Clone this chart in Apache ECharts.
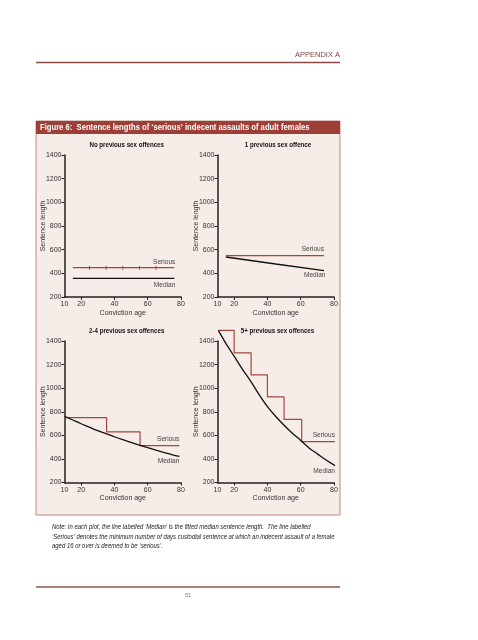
<!DOCTYPE html>
<html><head><meta charset="utf-8">
<script src="https://cdn.jsdelivr.net/npm/echarts@6/dist/echarts.min.js"></script>
<style>html,body{margin:0;padding:0;background:#fff}#c{width:478px;height:640px}</style>
</head><body><div id="c"></div>
<script>
// ---------- data ----------
const xTickLabels = [10, 20, 40, 60, 80];
const xTickMarks = [20, 40, 60, 80];
const yTicks = [200, 400, 600, 800, 1000, 1200, 1400];
const panelTitles = ['No previous sex offences', '1 previous sex offence', '2-4 previous sex offences', '5+ previous sex offences'];

// Panel 1: no previous sex offences
const p1SeriousAge = [15, 25, 35, 45, 55, 65, 76];
const p1SeriousVal = [448, 448, 448, 448, 448, 448, 448];
const p1MedianAge = [15, 76];
const p1MedianVal = [358, 358];
// Panel 2: 1 previous sex offence
const p2SeriousAge = [15, 74];
const p2SeriousVal = [549, 549];
const p2MedianAge = [15, 45, 74];
const p2MedianVal = [538, 479, 423];
// Panel 3: 2-4 previous sex offences
const p3SeriousAge = [10, 35.3, 55.4, 79];
const p3SeriousVal = [751, 630, 512, 512];
const p3MedianAge = [10, 15, 20, 25, 30, 35, 40, 45, 50, 55, 60, 65, 70, 75, 79];
const p3MedianVal = [762, 730, 698, 669, 640, 615, 588, 563, 540, 517, 495, 474, 454, 435, 421];
// Panel 4: 5+ previous sex offences
const p4SeriousAge = [10.5, 20, 30.2, 40, 50, 60.6, 80.6];
const p4SeriousVal = [1490, 1300, 1112, 926, 735, 546, 546];
const p4MedianAge = [10.5, 15, 20, 25, 30, 35, 40, 45, 50, 55, 60, 65, 70, 75, 80.6];
const p4MedianVal = [1490, 1380, 1271, 1160, 1057, 945, 843, 760, 686, 618, 557, 493, 443, 393, 343];

const noteLines = [
  'Note: In each plot, the line labelled \u2018Median\u2019 is the fitted median sentence length.  The line labelled',
  '\u2018Serious\u2019 denotes the minimum number of days custodial sentence at which an indecent assault of a female',
  'aged 16 or over is deemed to be \u2018serious\u2019.'
];

// ---------- styling ----------
const F = '"Liberation Sans", sans-serif';
const RED = '#a5463f';
const INK = '#222';
const grids = [
  {left: 64.5, top: 155, width: 116.5, height: 142},
  {left: 217.5, top: 155, width: 116.5, height: 142},
  {left: 64.5, top: 341, width: 116.5, height: 141.5},
  {left: 217.5, top: 341, width: 116.5, height: 141.5}
];
const titlePos = [[126.7, 145], [278, 145], [126.7, 330.7], [277.5, 330.7]];

function pairs(ages, vals, lab, tickIdx) {
  return ages.map((a, i) => {
    const it = {value: [a, vals[i]]};
    if (tickIdx && tickIdx(i)) { it.symbol = 'rect'; it.symbolSize = [1, 4]; }
    if (lab && i === ages.length - 1) {
      it.label = Object.assign({show: true, formatter: lab.text, align: 'right',
        fontSize: 6.6, color: '#444', fontFamily: F}, lab.opts);
    }
    return it;
  });
}

const panels = [
  [p1SeriousAge, p1SeriousVal, p1MedianAge, p1MedianVal, {position: 'top', distance: 2, offset: [1, 0]}, {position: 'bottom', distance: 3, offset: [1, 0]}],
  [p2SeriousAge, p2SeriousVal, p2MedianAge, p2MedianVal, {position: 'top', distance: 3, offset: [0, 0]}, {position: 'bottom', distance: 1, offset: [1.5, 0]}],
  [p3SeriousAge, p3SeriousVal, p3MedianAge, p3MedianVal, {position: 'top', distance: 3, offset: [0, 0]}, {position: 'bottom', distance: 1, offset: [0, 0]}],
  [p4SeriousAge, p4SeriousVal, p4MedianAge, p4MedianVal, {position: 'top', distance: 3, offset: [0, 0]}, {position: 'bottom', distance: 2.5, offset: [0, 0]}]
];

const xAxis = [], yAxis = [], series = [];
grids.forEach((g, i) => {
  xAxis.push({
    type: 'value', gridIndex: i, min: 10, max: 80, interval: 10,
    axisLine: {show: true, onZero: false, lineStyle: {color: INK, width: 1.5}},
    axisTick: {show: true, length: 3, customValues: xTickMarks, lineStyle: {color: INK}},
    axisLabel: {customValues: xTickLabels, margin: 4, fontSize: 7, color: '#333', fontFamily: F},
    splitLine: {show: false},
    name: 'Conviction age', nameLocation: 'middle', nameGap: 12.5, nameMoveOverlap: false,
    nameTextStyle: {fontSize: 7, color: '#333', fontFamily: F}
  });
  yAxis.push({
    type: 'value', gridIndex: i, min: yTicks[0], max: yTicks[yTicks.length - 1], interval: 200,
    axisLine: {show: true, onZero: false, lineStyle: {color: INK, width: 1.5}},
    axisTick: {show: true, length: 3, lineStyle: {color: INK}},
    axisLabel: {margin: 3, fontSize: 7, color: '#333', fontFamily: F, formatter: v => String(v)},
    splitLine: {show: false},
    name: 'Sentence length', nameLocation: 'middle', nameGap: 18, nameRotate: 90, nameMoveOverlap: false,
    nameTextStyle: {fontSize: 7, color: '#333', fontFamily: F}
  });
  const p = panels[i];
  const stepped = i >= 2;
  series.push({
    type: 'line', xAxisIndex: i, yAxisIndex: i, clip: false, silent: true,
    step: stepped ? 'end' : false,
    symbol: 'circle', symbolSize: 0.01, showSymbol: true,
    itemStyle: {color: RED},
    lineStyle: {color: RED, width: 1.2},
    data: pairs(p[0], p[1], {text: 'Serious', opts: p[4]}, i === 0 ? (k => k > 0 && k < p[0].length - 1) : null)
  });
  series.push({
    type: 'line', xAxisIndex: i, yAxisIndex: i, clip: false, silent: true,
    smooth: stepped ? 0.3 : false,
    symbol: 'circle', symbolSize: 0.01, showSymbol: true,
    itemStyle: {color: '#111'},
    lineStyle: {color: '#111', width: 1.3},
    data: pairs(p[2], p[3], {text: 'Median', opts: p[5]})
  });
});

const graphic = [
  {type: 'rect', z: -10, shape: {x: 36, y: 121, width: 304, height: 394}, style: {fill: '#f6ece8', stroke: '#b98a80', lineWidth: 1}},
  {type: 'rect', z: -9, shape: {x: 36, y: 121, width: 304, height: 13}, style: {fill: '#9d3f36'}},
  {type: 'text', x: 40, y: 127.5, scaleX: 0.85, style: {text: 'Figure 6:  Sentence lengths of \u2018serious\u2019 indecent assaults of adult females', fill: '#fff', fontSize: 9, fontWeight: 'bold', fontFamily: F, align: 'left', verticalAlign: 'middle'}},
  {type: 'line', shape: {x1: 36, y1: 62.5, x2: 340, y2: 62.5}, style: {stroke: '#8c4a44', lineWidth: 1.5}},
  {type: 'text', x: 340, y: 55, style: {text: 'APPENDIX A', fill: '#7a4846', fontSize: 7.5, fontFamily: F, align: 'right', verticalAlign: 'middle'}},
  {type: 'line', shape: {x1: 36, y1: 587, x2: 340, y2: 587}, style: {stroke: '#8c5a4a', lineWidth: 1.5}},
  {type: 'text', x: 188, y: 595, style: {text: '51', fill: '#777', fontSize: 5.5, fontFamily: F, align: 'center', verticalAlign: 'middle'}}
];
panelTitles.forEach((t, i) => graphic.push({type: 'text', x: titlePos[i][0], y: titlePos[i][1], scaleX: 0.82,
  style: {text: t, fill: '#111', fontSize: 7.5, fontWeight: 'bold', fontFamily: F, align: 'center', verticalAlign: 'middle'}}));
noteLines.forEach((t, i) => graphic.push({type: 'text', x: 52, y: 527.3 + i * 9.4, scaleX: 0.85,
  style: {text: t, fill: '#222', fontSize: 7, fontStyle: 'italic', fontFamily: F, align: 'left', verticalAlign: 'middle'}}));

const chart = echarts.init(document.getElementById('c'), null, {renderer: 'canvas'});
chart.setOption({
  backgroundColor: '#fff',
  animation: false,
  grid: grids.map(g => Object.assign({containLabel: false, outerBoundsMode: 'none'}, g)),
  xAxis, yAxis, series, graphic
});
</script></body></html>
